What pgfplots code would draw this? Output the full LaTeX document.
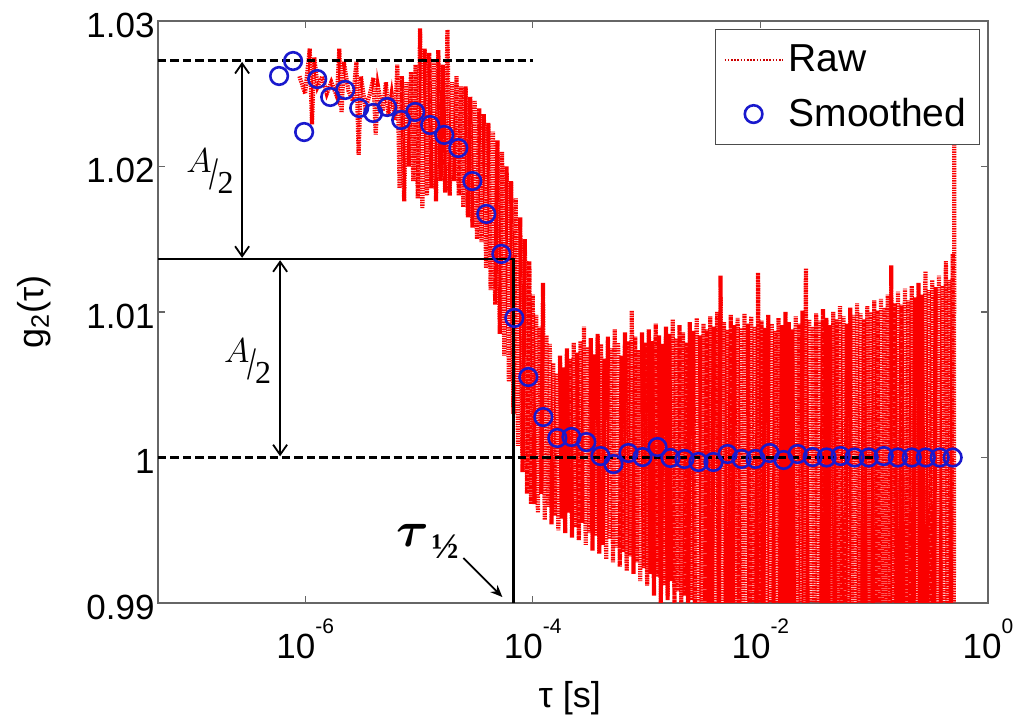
\documentclass[border=0pt]{standalone}
\usepackage{amsmath}
\usepackage{graphicx}
\usepackage{fontspec}
\setmainfont{Liberation Sans}
\newfontfamily\seriffont{Liberation Serif}
\usepackage{pgfplots}
\pgfplotsset{compat=1.18}
\usepackage{pgfplotstable}
\usetikzlibrary{arrows.meta}
\definecolor{mblue}{RGB}{25,25,205}
\definecolor{rawred}{RGB}{250,0,0}
\pgfplotsset{
  rawleg/.style={legend image code/.code={\draw[##1, line width=1pt, dash pattern=on 0.8pt off 0.8pt, red!80!black] (0pt,0pt) -- (29pt,0pt);}},
  dotleg/.style={legend image code/.code={\draw[##1] plot coordinates {(14.5pt,0pt)};}},
}

\pgfplotstableread{
lx y
-6.05 1.0262
-6.00 1.0250
-5.96 1.0281
-5.94 1.0229
-5.92 1.0275
-5.89 1.0255
-5.85 1.0262
-5.81 1.0250
-5.77 1.0258
-5.72 1.0248
-5.70 1.0281
-5.68 1.0237
-5.66 1.0272
-5.62 1.0252
-5.58 1.0245
-5.55 1.0272
-5.53 1.0208
-5.51 1.0262
-5.47 1.0240
-5.43 1.0250
-5.40 1.0261
-5.38 1.0222
-5.36 1.0255
-5.32 1.0238
-5.29 1.0258
-5.27 1.0235
-5.24 1.0250
-5.21 1.0232
-5.19 1.0270
-5.17 1.0185
-5.15 1.0262
-5.13 1.0176
-5.11 1.0258
-5.09 1.0200
-5.07 1.0265
-5.05 1.0190
-5.03 1.0270
-5.01 1.0178
-4.99 1.0295
-4.97 1.0171
-4.95 1.0281
-4.93 1.0180
-4.91 1.0278
-4.89 1.0185
-4.87 1.0272
-4.85 1.0176
-4.83 1.0280
-4.81 1.0190
-4.79 1.0270
-4.77 1.0182
-4.75 1.0294
-4.73 1.0180
-4.71 1.0258
-4.69 1.0190
-4.67 1.0262
-4.65 1.0180
-4.63 1.0255
-4.61 1.0172
-4.59 1.0255
-4.57 1.0165
-4.55 1.0248
-4.53 1.0158
-4.51 1.0245
-4.49 1.0150
-4.47 1.0240
-4.45 1.0148
-4.43 1.0236
-4.41 1.0130
-4.39 1.0230
-4.37 1.0115
-4.35 1.0224
-4.33 1.0105
-4.31 1.0218
-4.29 1.0085
-4.27 1.0210
-4.25 1.0070
-4.23 1.0200
-4.21 1.0052
-4.19 1.0190
-4.17 1.0030
-4.15 1.0178
-4.13 1.0008
-4.11 1.0165
-4.09 0.9990
-4.07 1.0150
-4.05 0.9975
-4.03 1.0135
-4.015 0.9968
-4.000 1.0112
-3.985 0.9968
-3.970 1.0098
-3.955 0.9962
-3.940 1.0090
-3.925 0.9975
-3.910 1.0120
-3.895 0.9957
-3.880 1.0084
-3.865 0.9966
-3.850 1.0078
-3.835 0.9954
-3.820 1.0065
-3.805 0.9960
-3.790 1.0058
-3.775 0.9950
-3.760 1.0070
-3.745 0.9958
-3.730 1.0062
-3.715 0.9948
-3.700 1.0075
-3.685 0.9962
-3.670 1.0068
-3.655 0.9945
-3.640 1.0079
-3.625 0.9952
-3.610 1.0072
-3.595 0.9943
-3.580 1.0080
-3.565 0.9955
-3.550 1.0090
-3.535 0.9940
-3.520 1.0076
-3.505 0.9948
-3.490 1.0082
-3.475 0.9936
-3.460 1.0071
-3.445 0.9946
-3.430 1.0085
-3.415 0.9934
-3.400 1.0078
-3.385 0.9940
-3.370 1.0068
-3.355 0.9930
-3.340 1.0083
-3.325 0.9944
-3.310 1.0075
-3.295 0.9928
-3.280 1.0088
-3.265 0.9938
-3.250 1.0079
-3.235 0.9925
-3.220 1.0070
-3.205 0.9935
-3.190 1.0086
-3.175 0.9922
-3.160 1.0080
-3.145 0.9932
-3.130 1.0101
-3.115 0.9920
-3.100 1.0083
-3.085 0.9928
-3.070 1.0074
-3.055 0.9915
-3.040 1.0086
-3.025 0.9924
-3.010 1.0079
-2.995 0.9912
-2.980 1.0088
-2.965 0.9920
-2.950 1.0080
-2.935 0.9905
-2.920 1.0092
-2.905 0.9918
-2.890 1.0084
-2.875 0.9895
-2.860 1.0078
-2.845 0.9912
-2.830 1.0090
-2.815 0.9902
-2.800 1.0085
-2.785 0.9915
-2.770 1.0095
-2.755 0.9898
-2.740 1.0082
-2.725 0.9908
-2.710 1.0091
-2.695 0.9893
-2.680 1.0086
-2.665 0.9905
-2.650 1.0079
-2.635 0.9890
-2.620 1.0093
-2.605 0.9902
-2.590 1.0087
-2.575 0.9888
-2.560 1.0096
-2.545 0.9898
-2.530 1.0084
-2.515 0.9885
-2.500 1.0092
-2.485 0.9895
-2.470 1.0088
-2.455 0.9882
-2.440 1.0097
-2.425 0.9893
-2.410 1.0090
-2.395 0.9880
-2.380 1.0100
-2.365 0.9890
-2.350 1.0125
-2.335 0.9882
-2.320 1.0093
-2.305 0.9878
-2.290 1.0088
-2.275 0.9888
-2.260 1.0098
-2.245 0.9880
-2.230 1.0091
-2.215 0.9876
-2.200 1.0096
-2.185 0.9885
-2.170 1.0089
-2.155 0.9878
-2.140 1.0099
-2.125 0.9882
-2.110 1.0092
-2.095 0.9875
-2.080 1.0097
-2.065 0.9884
-2.050 1.0090
-2.035 0.9876
-2.020 1.0127
-2.005 0.9880
-1.990 1.0094
-1.975 0.9878
-1.960 1.0089
-1.945 0.9884
-1.930 1.0098
-1.915 0.9875
-1.900 1.0092
-1.885 0.9882
-1.870 1.0087
-1.855 0.9876
-1.840 1.0096
-1.825 0.9885
-1.810 1.0091
-1.795 0.9874
-1.780 1.0100
-1.765 0.9880
-1.750 1.0093
-1.735 0.9877
-1.720 1.0088
-1.705 0.9884
-1.690 1.0097
-1.675 0.9875
-1.660 1.0092
-1.645 0.9882
-1.630 1.0101
-1.615 0.9876
-1.600 1.0130
-1.585 0.9880
-1.570 1.0095
-1.555 0.9874
-1.540 1.0090
-1.525 0.9883
-1.510 1.0099
-1.495 0.9877
-1.480 1.0094
-1.465 0.9881
-1.450 1.0102
-1.435 0.9875
-1.420 1.0096
-1.405 0.9884
-1.390 1.0091
-1.375 0.9876
-1.360 1.0100
-1.345 0.9880
-1.330 1.0095
-1.315 0.9874
-1.300 1.0104
-1.285 0.9882
-1.270 1.0097
-1.255 0.9877
-1.240 1.0092
-1.225 0.9883
-1.210 1.0103
-1.195 0.9876
-1.180 1.0098
-1.165 0.9881
-1.150 1.0106
-1.135 0.9874
-1.120 1.0099
-1.105 0.9880
-1.090 1.0095
-1.075 0.9877
-1.060 1.0104
-1.045 0.9883
-1.030 1.0100
-1.015 0.9876
-1.000 1.0108
-0.985 0.9880
-0.970 1.0101
-0.955 0.9875
-0.940 1.0109
-0.925 0.9882
-0.910 1.0103
-0.895 0.9877
-0.880 1.0112
-0.865 0.9881
-0.850 1.0132
-0.835 0.9875
-0.820 1.0106
-0.805 0.9880
-0.790 1.0114
-0.775 0.9876
-0.760 1.0105
-0.745 0.9883
-0.730 1.0116
-0.715 0.9877
-0.700 1.0108
-0.685 0.9880
-0.670 1.0118
-0.655 0.9875
-0.640 1.0110
-0.625 0.9882
-0.610 1.0120
-0.595 0.9876
-0.580 1.0112
-0.565 0.9881
-0.550 1.0128
-0.535 0.9877
-0.520 1.0115
-0.505 0.9883
-0.490 1.0122
-0.475 0.9876
-0.460 1.0117
-0.445 0.9880
-0.430 1.0125
-0.415 0.9877
-0.400 1.0118
-0.385 0.9882
-0.370 1.0135
-0.355 0.9876
-0.340 1.0122
-0.325 0.9880
-0.310 1.0140
-0.300 0.9880
-0.295 1.0295
}\rawdata

\pgfplotstableread{
lx y
-6.229 1.02622
-6.106 1.02725
-6.009 1.02237
-5.894 1.02601
-5.780 1.02478
-5.648 1.02526
-5.525 1.02402
-5.402 1.02368
-5.279 1.02409
-5.156 1.02320
-5.033 1.02375
-4.901 1.02285
-4.778 1.02217
-4.654 1.02127
-4.531 1.01900
-4.408 1.01674
-4.276 1.01399
-4.162 1.00959
-4.039 1.00553
-3.907 1.00278
-3.784 1.00134
-3.660 1.00141
-3.529 1.00106
-3.405 1.00010
-3.291 0.99955
-3.159 1.00031
-3.036 1.00003
-2.904 1.00072
-2.790 0.99997
-2.667 0.99990
-2.544 0.99969
-2.412 0.99969
-2.288 1.00024
-2.165 0.99990
-2.042 0.99990
-1.919 1.00031
-1.796 0.99983
-1.673 1.00024
-1.541 1.00003
-1.418 1.00000
-1.295 1.00010
-1.172 1.00000
-1.048 1.00000
-0.916 1.00010
-0.793 1.00000
-0.670 1.00000
-0.547 1.00000
-0.424 1.00000
-0.310 1.00000
}\smoothdata

\newcommand{\tl}[1]{10\raisebox{0.72em}{\fontsize{10.5}{10.5}\selectfont #1}}
\newcommand{\half}{{\fontsize{16}{16}\selectfont\raisebox{0.55em}{$A$}\kern-0.06em\scalebox{1}[1.45]{\seriffont /}\kern-0.04em\raisebox{-0.12em}{\seriffont 2}}}

\begin{document}
\begin{tikzpicture}
\path[use as bounding box] (-79pt,-59pt) rectangle (433pt,301.5pt);
\begin{axis}[
  at={(0,0)}, anchor=south west,
  scale only axis, width=415pt, height=291pt,
  xmin=-7.293, xmax=0, ymin=0.99, ymax=1.03,
  xtick={-6,-4,-2,0},
  xticklabels={{\tl{-6}},{\tl{-4}},{\tl{-2}},{\tl{0}}},
  ytick={0.99,1,1.01,1.02,1.03},
  yticklabels={0.99,1,1.01,1.02,1.03},
  minor tick num=0,
  tick align=inside, xtick pos=both, ytick pos=both,
  major tick length=3.5pt,
  axis line style={black!60, line width=0.6pt},
  every tick/.style={black!60, line width=0.6pt},
  tick label style={font=\fontsize{17.5}{17.5}\selectfont},
  xticklabel style={yshift=-4.5pt},
  yticklabel style={xshift=1.8pt, yshift=-2pt},
  xlabel={τ [s]}, ylabel={g\textsubscript{2}(τ)},
  label style={font=\fontsize{18}{18}\selectfont},
  xlabel style={at={(axis description cs:0.496,-0.163)}, anchor=center},
  ylabel style={at={(axis description cs:-0.1494,0.5)}, anchor=center},
  legend style={at={(axis description cs:1,1)}, anchor=north east,
    xshift=-4pt, yshift=-4pt, draw=black!70, line width=0.6pt, fill=white,
    font=\fontsize{19.5}{19.5}\selectfont, inner xsep=4pt, inner ysep=5pt,
    row sep=7pt, nodes={inner sep=2.5pt}},
  legend cell align=left,
]
\addplot[rawleg, rawred, line width=2.1pt, dash pattern=on 0.7pt off 0.5pt]
  table[x=lx, y=y] {\rawdata};
\addlegendentry{Raw}

\addplot[forget plot, black, line width=1.3pt, dash pattern=on 4.2pt off 2pt]
  coordinates {(-7.293,1.02727) (-4,1.02727)};
\addplot[forget plot, black, line width=1.3pt, dash pattern=on 4.2pt off 2pt]
  coordinates {(-7.293,1) (-1,1)};
\addplot[forget plot, black, line width=1.4pt]
  coordinates {(-7.293,1.01364) (-4.167,1.01364) (-4.167,0.99)};

\draw[{Straight Barb[length=5pt,width=7pt]}-{Straight Barb[length=5pt,width=7pt]}, line width=0.9pt, shorten >=0.6pt, shorten <=0.6pt]
  (axis cs:-6.554,1.02727) -- (axis cs:-6.554,1.01364);
\draw[{Straight Barb[length=5pt,width=7pt]}-{Straight Barb[length=5pt,width=7pt]}, line width=0.9pt, shorten >=0.6pt, shorten <=0.6pt]
  (axis cs:-6.220,1.01364) -- (axis cs:-6.220,1.0);
\node[inner sep=0] at (axis cs:-6.836,1.01969) {\half};
\node[inner sep=0] at (axis cs:-6.506,1.00663) {\half};
\node[font=\fontsize{25}{25}\selectfont, inner sep=0] at (axis cs:-5.050,0.99467) {$\boldsymbol{\tau}$};
\node[font=\fontsize{18}{18}\selectfont\seriffont\bfseries, inner sep=0] at (axis cs:-4.769,0.99385) {½};
\draw[-{Stealth[length=6pt,width=5pt]}, line width=0.9pt]
  (axis cs:-4.610,0.99309) -- (axis cs:-4.267,0.99041);

\addplot[dotleg, only marks, mark=o, mark size=4.4pt, mblue, line width=1.3pt]
  table[x=lx, y=y] {\smoothdata};
\addlegendentry{Smoothed}
\end{axis}
\end{tikzpicture}
\end{document}
